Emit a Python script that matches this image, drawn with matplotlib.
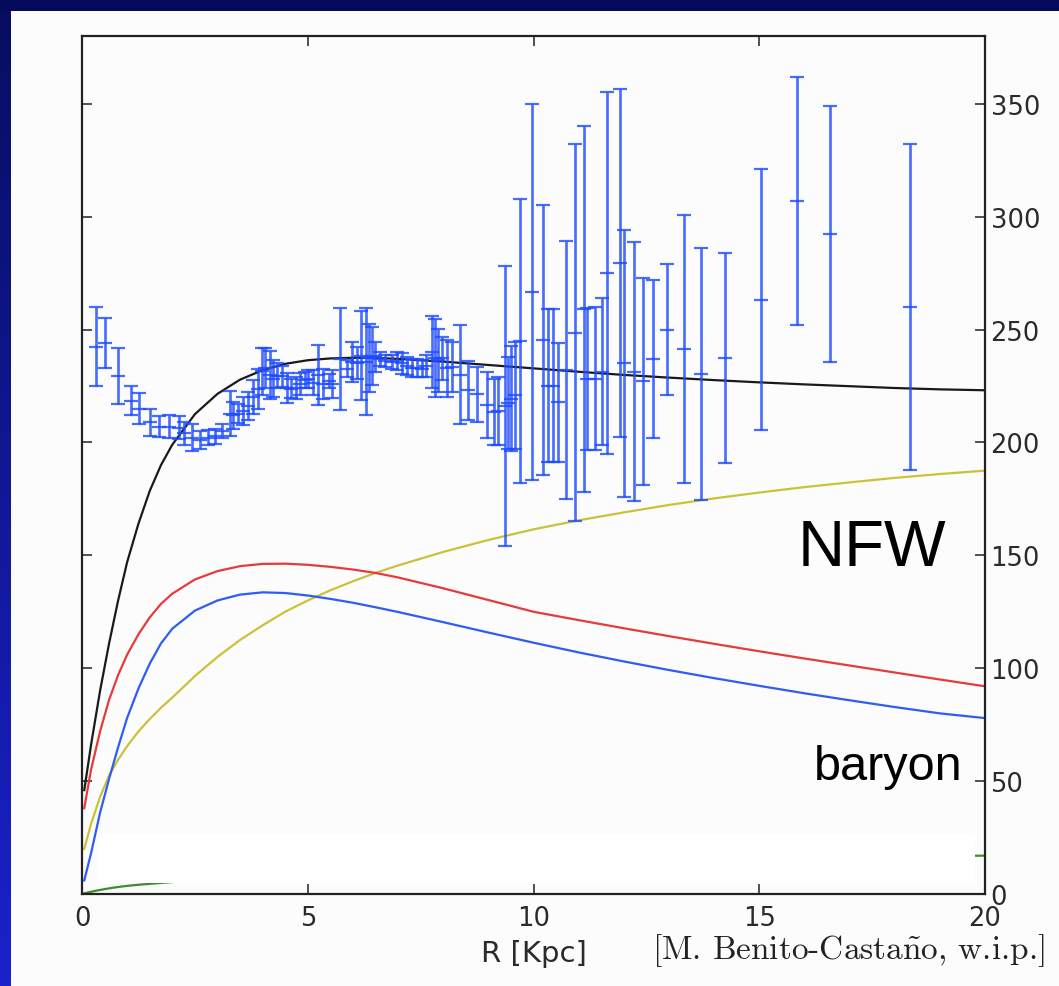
import numpy as np
import matplotlib
matplotlib.use("Agg")
import matplotlib.pyplot as plt
from matplotlib.patches import Rectangle

# Observed rotation curve: radius [kpc], circular velocity [km/s], symmetric error
r_obs = [0.31, 0.50, 0.80, 1.09, 1.27, 1.51, 1.71, 1.93, 2.14, 2.25,
         2.43, 2.61, 2.79, 2.95, 3.09, 3.28, 3.35, 3.46, 3.57, 3.68,
         3.79, 3.90, 3.98, 4.05, 4.16, 4.24, 4.31, 4.42, 4.53, 4.64,
         4.75, 4.83, 4.94, 5.01, 5.12, 5.23, 5.34, 5.46, 5.53, 5.71,
         5.86, 5.97, 6.08, 6.19, 6.28, 6.36, 6.43, 6.50, 6.60, 6.71,
         6.86, 6.97, 7.08, 7.19, 7.30, 7.41, 7.52, 7.63, 7.75, 7.82,
         7.89, 7.97, 8.08, 8.19, 8.37, 8.55, 8.74, 8.96, 9.13, 9.22,
         9.36, 9.44, 9.50, 9.59, 9.70, 9.96, 10.22, 10.33, 10.44, 10.55,
         10.72, 10.92, 11.12, 11.18, 11.36, 11.51, 11.62, 11.92, 12.00, 12.23,
         12.43, 12.65, 12.96, 13.33, 13.72, 14.24, 15.03, 15.84, 16.57, 18.34]
v_obs = [242.4, 244.0, 229.5, 218.5, 215.0, 209.0, 207.0, 207.0, 206.6, 204.0,
         202.0, 201.0, 202.0, 202.8, 205.0, 212.8, 212.0, 212.7, 213.8, 216.2,
         220.2, 223.8, 231.5, 232.8, 230.0, 228.2, 229.5, 229.3, 224.0, 223.8,
         224.2, 225.8, 227.7, 228.0, 226.5, 230.0, 226.0, 227.2, 225.8, 237.0,
         232.7, 235.6, 235.3, 238.4, 235.8, 237.5, 238.2, 237.9, 237.0, 236.0,
         235.7, 236.0, 235.0, 233.9, 233.0, 232.9, 232.7, 233.8, 240.0, 237.5,
         236.4, 237.2, 232.8, 233.5, 230.0, 223.0, 221.3, 216.5, 213.5, 214.0,
         216.0, 217.5, 219.3, 220.8, 244.8, 266.5, 245.3, 225.2, 225.2, 217.7,
         232.0, 248.5, 259.0, 228.0, 228.3, 231.4, 275.0, 279.6, 235.0, 231.3,
         227.0, 236.9, 249.9, 241.3, 230.3, 237.4, 263.2, 306.9, 292.4, 260.0]
v_err = [17.4, 11.0, 12.5, 6.5, 7.0, 6.0, 4.5, 5.0, 4.9, 5.0,
         6.0, 4.0, 3.3, 3.3, 3.2, 9.8, 6.0, 4.3, 6.2, 6.2,
         7.4, 8.8, 10.5, 8.8, 10.6, 8.2, 5.5, 4.7, 6.6, 4.2,
         4.8, 4.8, 3.7, 4.0, 5.5, 13.3, 6.6, 3.2, 6.2, 22.5,
         3.7, 8.8, 7.0, 19.6, 23.8, 15.1, 12.8, 6.6, 3.0, 2.6,
         3.0, 4.0, 4.5, 4.0, 4.0, 4.1, 3.7, 4.8, 16.0, 17.3,
         14.0, 9.6, 12.5, 11.0, 22.0, 13.0, 12.3, 14.5, 14.5, 15.0,
         62.0, 20.5, 23.3, 23.8, 62.8, 83.2, 59.8, 33.7, 33.7, 26.2,
         57.0, 83.5, 81.0, 31.4, 31.7, 32.6, 80.0, 77.0, 59.0, 57.3,
         46.0, 35.1, 28.9, 59.3, 55.8, 46.7, 57.8, 54.9, 56.7, 72.3]

# Model components sampled on a radial grid [kpc]
r_model = [0.05, 0.2, 0.4, 0.6, 0.8, 1.0, 1.25, 1.5, 1.75, 2.0, 2.5,
           3.0, 3.5, 4.0, 4.5, 5.0, 5.5, 6.0, 6.5, 7.0, 8.0, 9.0, 10.0,
           11.0, 12.0, 13.0, 14.0, 15.0, 16.0, 17.0, 18.0, 19.0, 20.0]
v_total = [46, 66, 90, 111, 130, 147, 164, 178.5, 190, 199, 212.5,
           221.5, 227.8, 232, 234.8, 236.4, 237.2, 237.5, 237.4, 237.0, 235.8, 234.3, 232.8,
           231.3, 229.9, 228.7, 227.6, 226.6, 225.7, 224.9, 224.1, 223.5, 223.1]
v_baryon = [38, 55, 72, 86, 97, 106, 115, 122.5, 128.5, 133, 139.3,
            143, 145.2, 146.2, 146.3, 145.8, 144.9, 143.7, 142.2, 140.2, 135.4, 130.2, 125.0,
            121.3, 117.7, 114.2, 110.8, 107.5, 104.3, 101.2, 98.1, 95.0, 92.0]
v_disk = [6, 18, 36, 51, 65, 78, 91, 102, 111, 117.5, 125.5,
          130, 132.6, 133.6, 133.3, 132.2, 130.7, 129.0, 127.0, 124.9, 120.4, 115.8, 111.3,
          107.0, 103.0, 99.2, 95.6, 92.2, 88.9, 85.8, 82.8, 80.0, 77.9]
v_nfw = [20, 31, 43, 52.5, 59.5, 65.5, 72, 77.5, 82.5, 87, 96.5,
         105, 112.5, 119, 125, 130, 134.5, 138.5, 142.2, 145.5, 151.5, 156.8, 161.5,
         165.5, 169, 172.3, 175.2, 177.8, 180.2, 182.3, 184.3, 186.0, 187.5]
v_gas = [0.3, 1.0, 1.8, 2.5, 3.1, 3.6, 4.1, 4.5, 4.9, 5.3, 6.0,
         6.6, 7.1, 7.6, 8.1, 8.5, 8.9, 9.3, 9.7, 10.1, 10.8, 11.5, 12.2,
         12.8, 13.4, 14.0, 14.5, 15.0, 15.5, 15.9, 16.3, 16.7, 17.0]

x_ticks = [0, 5, 10, 15, 20]
y_ticks = [0, 50, 100, 150, 200, 250, 300, 350]

W, H = 1059, 987
fig = plt.figure(figsize=(W / 100, H / 100), dpi=100, facecolor="#fbfcfb")

# slide frame: navy band on top, blue gradient strip on the left
top_ax = fig.add_axes([0, 1 - 12 / H, 1, 12 / H])
top_ax.add_patch(Rectangle((0, 0), 1, 1, color="#050a5c"))
top_ax.set_axis_off()
left_ax = fig.add_axes([0, 0, 11 / W, 1 - 12 / H])
grad = np.linspace(0, 1, 256).reshape(-1, 1)
c_top = np.array([0x08, 0x0d, 0x62]) / 255
c_bot = np.array([0x1a, 0x22, 0xcc]) / 255
img = c_top[None, None, :] * (1 - grad[:, :, None]) + c_bot[None, None, :] * grad[:, :, None]
left_ax.imshow(img, aspect="auto", extent=[0, 1, 0, 1], origin="upper")
left_ax.set_axis_off()

ax = fig.add_axes([82 / W, 1 - 895 / H, (985 - 82) / W, (895 - 37) / H])
ax.set_facecolor("#fbfcfb")

line_w = 1.6
ax.plot(r_model, v_gas, color="#3a8f2a", lw=line_w, zorder=2)
ax.plot(r_model, v_nfw, color="#cbc23a", lw=line_w, zorder=2)
ax.plot(r_model, v_disk, color="#2f5cf5", lw=line_w, zorder=2)
ax.plot(r_model, v_baryon, color="#e63a3c", lw=line_w, zorder=2)
ax.plot(r_model, v_total, color="#1a1a1a", lw=line_w, zorder=3)

ax.errorbar(r_obs, v_obs, yerr=v_err, fmt="_", color="#1f4cff", ecolor="#1f4cff",
            alpha=0.82, elinewidth=1.9, capsize=4.7, capthick=1.6,
            markersize=9.4, markeredgewidth=1.6, zorder=4)

# white label box sitting over the lower part of the panel
ax.add_patch(Rectangle((0.35, 4.9), 19.43, 21.7, facecolor="white",
                       edgecolor="none", zorder=5))

ax.set_xlim(0, 20)
ax.set_ylim(0, 380)
ax.set_xticks(x_ticks)
ax.set_yticks(y_ticks)
ax.tick_params(axis="both", direction="in", length=7, width=1.2, color="#333333",
               labelsize=18.5, labelcolor="#2a2a2a", top=True, bottom=True,
               left=True, right=True, labelleft=False, labelright=True)
ax.tick_params(axis="x", pad=8)
ax.tick_params(axis="y", pad=4)
for sp in ax.spines.values():
    sp.set_linewidth(1.6)
    sp.set_color("#222222")
    sp.set_zorder(6)

ax.set_xlabel("R [Kpc]", fontsize=21, color="#2a2a2a", labelpad=6)

ax.text(15.84, 145.8, "NFW", fontsize=47, family="Liberation Sans",
        color="black", zorder=7)
ax.text(16.2, 51, "baryon", fontsize=35, family="Liberation Sans",
        color="black", zorder=7)

plt.rcParams["mathtext.fontset"] = "cm"
fig.text(1045 / W, 1 - 951 / H, r"[M. Benito-Casta$\tilde{\mathrm{n}}$o, w.i.p.]",
         fontsize=24, family="cmr10", ha="right", va="center", color="#222222")

fig.savefig("out.png", dpi=100, facecolor=fig.get_facecolor())
